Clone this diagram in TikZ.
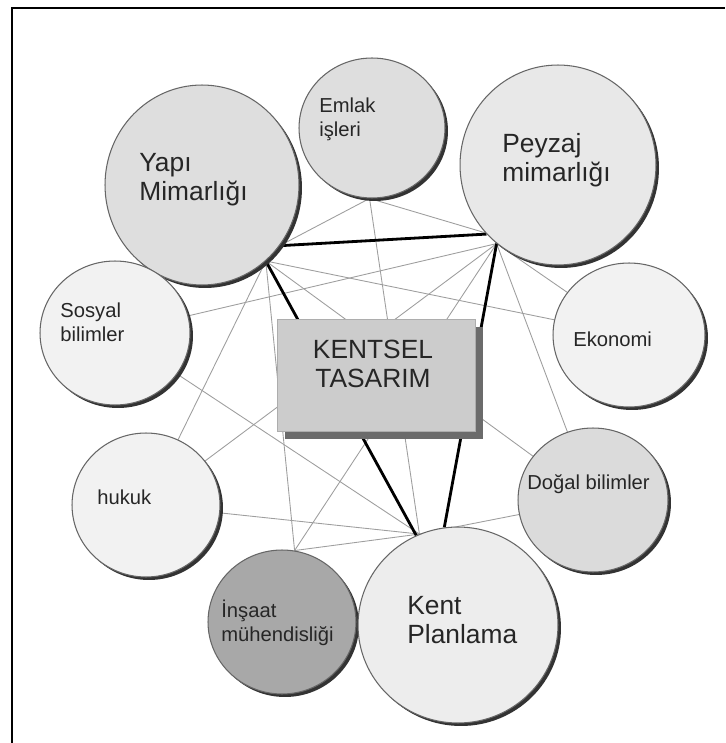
\documentclass[tikz,border=0pt]{standalone}
\usepackage{fontspec}
\setmainfont{Liberation Sans}
\usetikzlibrary{shapes.geometric}
\usetikzlibrary{shadows}
\usetikzlibrary{backgrounds}

\definecolor{gEmlak}{gray}{0.87}
\definecolor{gYapi}{gray}{0.87}
\definecolor{gPeyzaj}{gray}{0.91}
\definecolor{gPale}{gray}{0.95}
\definecolor{gDogal}{gray}{0.86}
\definecolor{gInsaat}{gray}{0.66}
\definecolor{gKent}{gray}{0.93}
\definecolor{gBox}{gray}{0.80}
\definecolor{gShade}{gray}{0.42}

\begin{document}
\begin{tikzpicture}[x=0.02cm, y=-0.02cm]
% -------------------------------------------------
\tikzset{
  disc/.style={ellipse, draw=black!60, line width=0.6pt, inner sep=0pt,
    drop shadow={shadow xshift=0.06cm, shadow yshift=-0.06cm, fill=black!80, opacity=1}},
  box/.style={rectangle, draw=gBox!85!black, fill=gBox, line width=0.4pt, inner sep=0pt,
    drop shadow={shadow xshift=0.16cm, shadow yshift=-0.16cm, fill=gShade, opacity=1}},
  smalltxt/.style={anchor=west, align=left, inner sep=0pt, text=black!85,
    font=\fontsize{11.5}{13.5}\selectfont},
  bigtxt/.style={anchor=west, align=left, inner sep=0pt, text=black!85,
    font=\fontsize{15}{16.5}\selectfont},
  boxtxt/.style={align=center, inner sep=0pt, text=black!85,
    font=\fontsize{15}{16.5}\selectfont},
  link/.style={draw=black!38, line width=0.5pt},
  tie/.style={draw=black, line width=1.6pt}
}

    \useasboundingbox (0,0) rectangle (725,743);
    \draw[line width=1.2pt] (12,743) -- (12,8) -- (725,8);            % page frame

    % circles
    \node [disc, fill=gEmlak, minimum width=2.92cm, minimum height=2.8cm] (emlak) at (372,128) {};
    \node [disc, fill=gYapi, minimum width=3.88cm, minimum height=4cm] (yapi) at (202,185) {};
    \node [disc, fill=gPeyzaj, minimum width=3.92cm, minimum height=4cm] (peyzaj) at (558,165) {};
    \node [disc, fill=gPale, minimum width=3cm, minimum height=2.88cm] (sosyal) at (115,333) {};
    \node [disc, fill=gPale, minimum width=3.04cm, minimum height=2.88cm] (ekonomi) at (629,335) {};
    \node [disc, fill=gPale, minimum width=2.96cm, minimum height=2.88cm] (hukuk) at (146,505) {};
    \node [disc, fill=gDogal, minimum width=3cm, minimum height=2.88cm] (dogal) at (593,500) {};
    \node [disc, fill=gInsaat, minimum width=2.96cm, minimum height=2.88cm] (insaat) at (282,622) {};
    \node [disc, fill=gKent, minimum width=4cm, minimum height=3.92cm] (kent) at (458,625) {};

    \node [box, minimum width=3.96cm, minimum height=2.24cm] (kentsel) at (376,375) {};

    % meeting points on the rims
    \coordinate (yapi-f) at (yapi.-50);
    \coordinate (peyzaj-f) at (peyzaj.-128);
    \coordinate (kent-f) at (kent.113);
    \coordinate (emlak-f) at (emlak.-92);
    \coordinate (insaat-f) at (insaat.80);

    \begin{scope}[on background layer]
    \path [link] (emlak-f) -- (yapi.-38);
    \path [link] (emlak-f) -- (peyzaj.-137);
    \path [link] (emlak-f) -- (kent-f);
    \path [link] (sosyal) -- (peyzaj-f);
    \path [link] (sosyal) -- (kent-f);
    \path [link] (ekonomi) -- (yapi-f);
    \path [link] (ekonomi) -- (peyzaj-f);
    \path [link] (hukuk) -- (yapi-f);
    \path [link] (hukuk) -- (peyzaj-f);
    \path [link] (hukuk) -- (kent-f);
    \path [link] (dogal) -- (yapi-f);
    \path [link] (dogal) -- (peyzaj-f);
    \path [link] (dogal) -- (kent-f);
    \path [link] (insaat-f) -- (yapi-f);
    \path [link] (insaat-f) -- (peyzaj-f);
    \path [link] (insaat-f) -- (kent-f);

    \path [tie] (yapi.-38) -- (peyzaj.-136);
    \path [tie] (yapi-f) -- (kent.115);
    \path [tie] (peyzaj-f) -- (kent.98);
    \end{scope}

    % texts
    \node [smalltxt] (emlak-t) at (319,119) {Emlak\\işleri};
    \node [bigtxt] (yapi-t) at (139,180) {Yapı\\Mimarlığı};
    \node [bigtxt] (peyzaj-t) at (502,160) {Peyzaj\\mimarlığı};
    \node [smalltxt] (sosyal-t) at (60,322) {Sosyal\\bilimler};
    \node [smalltxt] (ekonomi-t) at (573,339) {Ekonomi};
    \node [smalltxt] (hukuk-t) at (97,497) {hukuk};
    \node [smalltxt] (dogal-t) at (527,484) {Doğal bilimler};
    \node [smalltxt] (insaat-t) at (221,623) {İnşaat\\mühendisliği};
    \node [bigtxt] (kent-t) at (407,620) {Kent\\Planlama};
    \node [boxtxt] (kentsel-t) at (373,364) {KENTSEL\\TASARIM};

\end{tikzpicture}
\end{document}
